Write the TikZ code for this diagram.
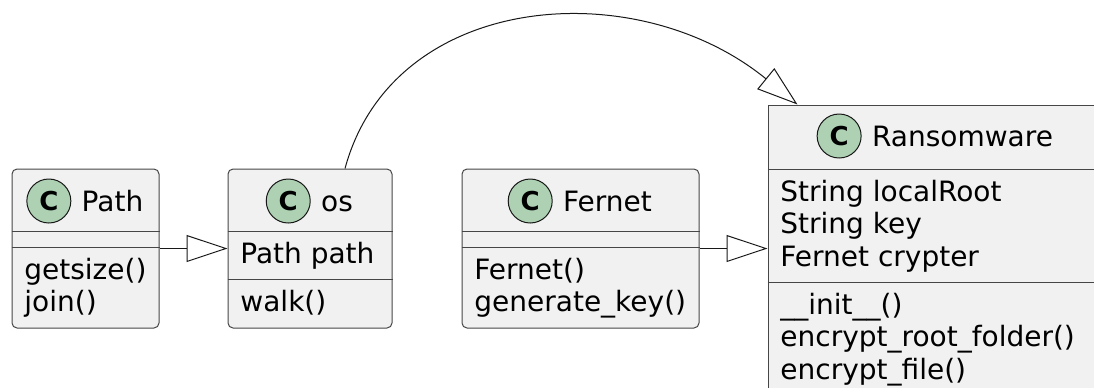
\documentclass[tikz,border=0pt]{standalone}
\usepackage{fontspec}
\setmainfont{DejaVu Sans}
\usetikzlibrary{arrows.meta,positioning,fit,calc}
\definecolor{boxfill}{HTML}{F1F1F1}
\definecolor{boxline}{HTML}{181818}
\definecolor{spotfill}{HTML}{ADD1B2}

\begin{document}
\begin{tikzpicture}[
            x=0.5pt, y=-0.5pt,
            classbox/.style={draw=boxline!80, fill=boxfill, line width=0.5pt, rounded corners=2.5pt, inner sep=0pt},
            divider/.style={draw=boxline!80, line width=0.5pt},
            spot/.style={circle, draw=boxline, fill=spotfill, line width=0.5pt, minimum size=22pt, inner sep=0pt, font=\fontsize{13}{13}\selectfont\bfseries},
            classname/.style={inner sep=0pt, anchor=base, text height=10pt, text depth=0pt, font=\fontsize{14}{16.3}\selectfont},
            member/.style={inner sep=0pt, anchor=base west, align=left, font=\fontsize{14}{16.3}\selectfont},
            inherit/.style={-{Triangle[open, length=20.5pt, width=13.5pt]}, draw=boxline, line width=0.5pt}
            ]
            \useasboundingbox (0,0) rectangle (1094,387);

            % Class boxes
            \node[classbox, fit={(12,169) (159,328)}] (path) {};
            \node[classbox, fit={(228,169) (392,328)}] (os) {};
            \node[classbox, fit={(462,169) (699,328)}] (fernet) {};
            \node[classbox, sharp corners, fit={(768,105) (1095,396)}] (ransom) {};

            % Compartments
            \draw[divider] (path.west |- 0,231) -- (path.east |- 0,231);
            \draw[divider] (path.west |- 0,247) -- (path.east |- 0,247);
            \draw[divider] (os.west |- 0,231) -- (os.east |- 0,231);
            \draw[divider] (os.west |- 0,279) -- (os.east |- 0,279);
            \draw[divider] (fernet.west |- 0,231) -- (fernet.east |- 0,231);
            \draw[divider] (fernet.west |- 0,247) -- (fernet.east |- 0,247);
            \draw[divider] (ransom.west |- 0,169) -- (ransom.east |- 0,169);
            \draw[divider] (ransom.west |- 0,282) -- (ransom.east |- 0,282);

            % Headers
            \node[classname] (pathname) at (112.5,211) {Path};
            \node[spot, left=5pt of pathname] (pathspot) {C};
            \node[classname] (osname) at (337,211) {os};
            \node[spot, left=5pt of osname] (osspot) {C};
            \node[classname] (fernetname) at (607.5,211) {Fernet};
            \node[spot, left=5pt of fernetname] (fernetspot) {C};
            \node[classname] (ransomname) at (962.5,146) {Ransomware};
            \node[spot, left=5pt of ransomname] (ransomspot) {C};

            % Members (anchored at the last line)
            \node[member] (pathops) at (24,311.6) {getsize()\\join()};
            \node[member] (osattr) at (240,263) {Path path};
            \node[member] (osops) at (240,311) {walk()};
            \node[member] (fernetops) at (474,311.6) {Fernet()\\generate\_key()};
            \node[member] (ransomattr) at (780,266.2) {String localRoot\\String key\\Fernet crypter};
            \node[member] (ransomops) at (780,379.2) {\_\_init\_\_()\\encrypt\_root\_folder()\\encrypt\_file()};

            % Generalisations
            \draw[inherit] (path) -- (os);
            \draw[inherit] (fernet.east) -- (fernet.east -| ransom.west);
            \draw[inherit] ($(os.north)+(35,0)$) .. controls +(48,-177) and +(-162,-132) .. ($(ransom.north west)+(30,0)$);

        \end{tikzpicture}
\end{document}
